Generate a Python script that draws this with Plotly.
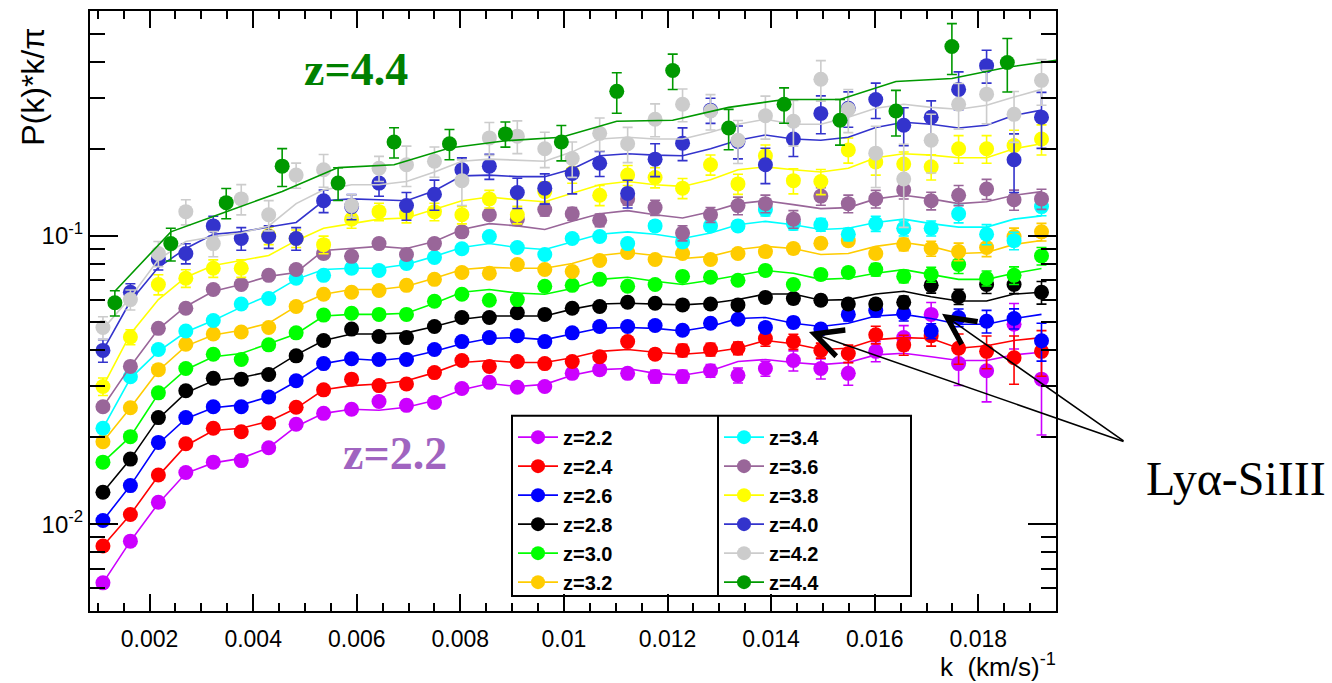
import math
import plotly.graph_objects as go

# ---------------- data ----------------
K = [0.00110, 0.00163, 0.00217, 0.00270, 0.00323, 0.00377, 0.00430, 0.00483, 0.00536, 0.00590,
     0.00643, 0.00696, 0.00750, 0.00803, 0.00856, 0.00910, 0.00963, 0.01016, 0.01069, 0.01123,
     0.01176, 0.01229, 0.01283, 0.01336, 0.01389, 0.01443, 0.01496, 0.01549, 0.01602, 0.01656,
     0.01709, 0.01762, 0.01816, 0.01869, 0.01922]
K44 = [0.00133, 0.00241, 0.00348, 0.00456, 0.00564, 0.00672, 0.00779, 0.00887, 0.00995,
       0.01102, 0.01210, 0.01318, 0.01425, 0.01533, 0.01641, 0.01749, 0.01856]
K44_MODEL = [0.00133, 0.00241, 0.00348, 0.00456, 0.00564, 0.00672, 0.00779, 0.00887, 0.00995,
             0.01102, 0.01210, 0.01318, 0.01425, 0.01533, 0.01641, 0.01749, 0.01856, 0.01964]

LABELS = ["z=2.2", "z=2.4", "z=2.6", "z=2.8", "z=3.0", "z=3.2",
          "z=3.4", "z=3.6", "z=3.8", "z=4.0", "z=4.2", "z=4.4"]
COLORS = ["#cc00ff", "#ff0000", "#0000ff", "#000000", "#00ff00", "#ffcc00",
          "#00ffff", "#996699", "#ffff00", "#3333cc", "#cccccc", "#009900"]

P_22 = [0.00626, 0.00873, 0.0119, 0.0151, 0.0164, 0.0166, 0.0184, 0.0222, 0.0242, 0.0250, 0.0266, 0.0258,
        0.0264, 0.0295, 0.0310, 0.0298, 0.0300, 0.0333, 0.0343, 0.0333, 0.0325, 0.0325, 0.0340, 0.0328,
        0.0346, 0.0369, 0.0346, 0.0333, 0.0397, 0.0443, 0.0533, 0.0360, 0.0340, 0.0493, 0.0318]
M_22 = [0.00626, 0.00873, 0.0118, 0.0150, 0.0163, 0.0169, 0.0184, 0.0218, 0.0242, 0.0250, 0.0248, 0.0254,
        0.0268, 0.0292, 0.0307, 0.0300, 0.0305, 0.0328, 0.0343, 0.0346, 0.0333, 0.0328, 0.0340, 0.0366,
        0.0372, 0.0363, 0.0357, 0.0363, 0.0386, 0.0391, 0.0380, 0.0369, 0.0369, 0.0386, 0.0394]
E_22 = [2, 2, 2, 2, 2, 2, 2, 2, 2, 3, 3, 3, 3, 3, 3, 3, 3, 4, 4, 4, 5, 5, 5, 6, 6, 8, 8, 9, 8, 10, 10, 16, 22, 18, 36]

P_24 = [0.0084, 0.0108, 0.0148, 0.0190, 0.0215, 0.0209, 0.0224, 0.0254, 0.0292, 0.0318, 0.0302, 0.0306,
        0.0335, 0.0369, 0.0352, 0.0366, 0.0360, 0.0366, 0.0380, 0.0429, 0.0388, 0.0400, 0.0403, 0.0407,
        0.0440, 0.0429, 0.0400, 0.0390, 0.0453, 0.0418, 0.0450, 0.0407, 0.0397, 0.0377, 0.0397]
M_24 = [0.0084, 0.0108, 0.0147, 0.0187, 0.0211, 0.0215, 0.0227, 0.0252, 0.0292, 0.0302, 0.0306, 0.0314,
        0.0335, 0.0363, 0.0369, 0.0363, 0.0363, 0.0377, 0.0397, 0.0403, 0.0394, 0.0388, 0.0394, 0.0407,
        0.0433, 0.0422, 0.0403, 0.0407, 0.0436, 0.0443, 0.0440, 0.0407, 0.0415, 0.0433, 0.0443]
E_24 = [2, 2, 2, 2, 2, 2, 2, 2, 2, 2, 2, 2, 3, 3, 3, 3, 3, 3, 3, 3, 4, 5, 5, 5, 6, 6, 6, 7, 7, 8, 8, 12, 13, 19, 18]

P_26 = [0.0103, 0.0136, 0.0192, 0.0234, 0.0255, 0.0255, 0.0276, 0.0314, 0.0360, 0.0374, 0.0372, 0.0372,
        0.0403, 0.0429, 0.0443, 0.0450, 0.0429, 0.0460, 0.0484, 0.0484, 0.0488, 0.0470, 0.0497, 0.0513,
        0.0480, 0.0500, 0.0474, 0.0533, 0.0550, 0.0538, 0.0467, 0.0520, 0.0505, 0.0516, 0.0432]
M_26 = [0.0103, 0.0136, 0.0190, 0.0232, 0.0253, 0.0259, 0.0276, 0.0312, 0.0360, 0.0374, 0.0369, 0.0377,
        0.0397, 0.0422, 0.0440, 0.0443, 0.0436, 0.0456, 0.0477, 0.0480, 0.0477, 0.0467, 0.0484, 0.0516,
        0.0520, 0.0497, 0.0484, 0.0497, 0.0526, 0.0533, 0.0516, 0.0493, 0.0493, 0.0516, 0.0533]
E_26 = [2, 2, 2, 2, 2, 2, 2, 2, 2, 2, 2, 2, 3, 3, 3, 3, 3, 3, 3, 3, 3, 3, 3, 3, 4, 4, 4, 5, 5, 6, 6, 7, 9, 8, 15]

P_28 = [0.0129, 0.0168, 0.0234, 0.0290, 0.0320, 0.0318, 0.0330, 0.0383, 0.0433, 0.0474, 0.0447, 0.0443,
        0.0484, 0.0520, 0.0520, 0.0540, 0.0533, 0.0560, 0.0568, 0.0587, 0.0583, 0.0575, 0.0579, 0.0575,
        0.0610, 0.0605, 0.0597, 0.0579, 0.0579, 0.0587, 0.0672, 0.0614, 0.0677, 0.0677, 0.0636]
M_28 = [0.0129, 0.0168, 0.0232, 0.0285, 0.0314, 0.0322, 0.0337, 0.0386, 0.0433, 0.0456, 0.0456, 0.0460,
        0.0484, 0.0513, 0.0526, 0.0526, 0.0526, 0.0556, 0.0579, 0.0583, 0.0579, 0.0575, 0.0583, 0.0600,
        0.0627, 0.0627, 0.0597, 0.0600, 0.0627, 0.0641, 0.0614, 0.0593, 0.0593, 0.0627, 0.0636]
E_28 = [2, 2, 2, 2, 2, 2, 2, 2, 2, 2, 2, 2, 3, 3, 3, 3, 3, 3, 3, 3, 3, 3, 3, 3, 4, 4, 4, 4, 4, 5, 6, 6, 7, 7, 9]

P_30 = [0.0164, 0.0201, 0.0285, 0.0346, 0.0388, 0.0372, 0.0418, 0.0460, 0.0530, 0.0538, 0.0533, 0.0533,
        0.0592, 0.0626, 0.0597, 0.0600, 0.0667, 0.0672, 0.0705, 0.0667, 0.0677, 0.0722, 0.0717, 0.0700,
        0.0757, 0.0677, 0.0733, 0.0745, 0.0762, 0.0722, 0.0733, 0.0794, 0.0711, 0.0728, 0.0850]
M_30 = [0.0164, 0.0201, 0.0283, 0.0343, 0.0380, 0.0390, 0.0422, 0.0456, 0.0526, 0.0533, 0.0533, 0.0538,
        0.0583, 0.0636, 0.0650, 0.0632, 0.0626, 0.0655, 0.0705, 0.0717, 0.0694, 0.0677, 0.0700, 0.0728,
        0.0757, 0.0740, 0.0705, 0.0711, 0.0740, 0.0762, 0.0733, 0.0705, 0.0705, 0.0740, 0.0769]
E_30 = [2, 2, 2, 2, 2, 2, 2, 2, 2, 2, 2, 2, 3, 3, 3, 3, 3, 3, 3, 3, 3, 3, 3, 3, 4, 4, 4, 4, 5, 5, 6, 7, 6, 7, 7]

P_32 = [0.0193, 0.0253, 0.0343, 0.0420, 0.0456, 0.0463, 0.0480, 0.0568, 0.0626, 0.0636, 0.0645, 0.0672,
        0.0705, 0.0745, 0.0740, 0.0794, 0.0763, 0.0751, 0.0820, 0.0874, 0.0826, 0.0867, 0.0826, 0.0867,
        0.0880, 0.0902, 0.0940, 0.0960, 0.0867, 0.0932, 0.0902, 0.0880, 0.0909, 0.0992, 0.1030]
M_32 = [0.0193, 0.0253, 0.0340, 0.0414, 0.0452, 0.0470, 0.0497, 0.0568, 0.0626, 0.0650, 0.0650, 0.0667,
        0.0711, 0.0763, 0.0776, 0.0770, 0.0770, 0.0800, 0.0853, 0.0874, 0.0853, 0.0833, 0.0847, 0.0895,
        0.0917, 0.0902, 0.0860, 0.0867, 0.0917, 0.0946, 0.0917, 0.0867, 0.0874, 0.0932, 0.0961]
E_32 = [2, 2, 2, 2, 2, 2, 2, 2, 2, 2, 2, 2, 3, 3, 3, 3, 3, 3, 3, 3, 3, 3, 3, 3, 4, 4, 4, 4, 4, 5, 6, 7, 7, 7, 7]

P_34 = [0.0215, 0.0324, 0.0403, 0.0467, 0.0508, 0.0579, 0.0605, 0.0711, 0.0728, 0.0770, 0.0757, 0.0800,
        0.0839, 0.0900, 0.0992, 0.0909, 0.0860, 0.0977, 0.0992, 0.0938, 0.1080, 0.0950, 0.1080, 0.1080,
        0.1230, 0.1100, 0.1090, 0.1010, 0.1100, 0.1060, 0.1060, 0.1190, 0.1010, 0.0960, 0.1260]
M_34 = [0.0215, 0.0320, 0.0397, 0.0463, 0.0508, 0.0565, 0.0620, 0.0705, 0.0763, 0.0770, 0.0770, 0.0794,
        0.0847, 0.0909, 0.0938, 0.0909, 0.0895, 0.0950, 0.1010, 0.1030, 0.1010, 0.0977, 0.1020, 0.1090,
        0.1120, 0.1090, 0.1050, 0.1060, 0.1110, 0.1140, 0.1100, 0.1070, 0.1070, 0.1140, 0.1170]
E_34 = [2, 2, 2, 2, 2, 2, 2, 2, 2, 2, 3, 3, 3, 3, 3, 3, 3, 3, 3, 3, 4, 4, 4, 4, 5, 5, 5, 5, 6, 6, 6, 7, 8, 7, 7]

P_36 = [0.0255, 0.0352, 0.0477, 0.0560, 0.0650, 0.0677, 0.0728, 0.0763, 0.0867, 0.0847, 0.0938, 0.0860,
        0.0938, 0.1030, 0.1180, 0.1140, 0.1230, 0.1190, 0.1130, 0.1340, 0.1250, 0.1020, 0.1180, 0.1270,
        0.1290, 0.1140, 0.1370, 0.1290, 0.1340, 0.1440, 0.1320, 0.1380, 0.1450, 0.1330, 0.1340]
M_36 = [0.0255, 0.0352, 0.0474, 0.0568, 0.0641, 0.0677, 0.0722, 0.0745, 0.0888, 0.0902, 0.0917, 0.0902,
        0.0954, 0.1050, 0.1100, 0.1080, 0.1050, 0.1120, 0.1190, 0.1220, 0.1180, 0.1150, 0.1210, 0.1290,
        0.1320, 0.1280, 0.1240, 0.1250, 0.1340, 0.1380, 0.1340, 0.1290, 0.1310, 0.1380, 0.1420]
E_36 = [3, 3, 3, 3, 3, 3, 3, 3, 4, 4, 4, 4, 4, 4, 4, 5, 5, 5, 5, 5, 6, 6, 6, 7, 7, 7, 7, 7, 7, 7, 7, 8, 8, 8, 8]

P_38 = [0.0300, 0.0445, 0.0677, 0.0711, 0.0770, 0.0770, 0.1000, 0.0977, 0.0930, 0.1140, 0.1210, 0.1190,
        0.1210, 0.1180, 0.1340, 0.1180, 0.1420, 0.1650, 0.1380, 0.1620, 0.1590, 0.1460, 0.1760, 0.1510,
        0.1890, 0.1550, 0.1540, 0.1980, 0.1800, 0.1770, 0.1730, 0.2000, 0.2000, 0.2050, 0.2160]
M_38 = [0.0300, 0.0456, 0.0600, 0.0717, 0.0788, 0.0820, 0.0853, 0.0960, 0.1060, 0.1100, 0.1140, 0.1150,
        0.1230, 0.1320, 0.1360, 0.1330, 0.1310, 0.1400, 0.1500, 0.1540, 0.1500, 0.1480, 0.1560, 0.1690,
        0.1730, 0.1690, 0.1660, 0.1710, 0.1860, 0.1920, 0.1900, 0.1860, 0.1860, 0.2000, 0.2080]
E_38 = [7, 6, 8, 7, 7, 7, 7, 7, 7, 7, 7, 7, 7, 7, 7, 7, 8, 8, 8, 8, 8, 8, 8, 8, 9, 10, 10, 10, 10, 10, 10, 11, 11, 13, 12]

P_40 = [0.0400, 0.0636, 0.0826, 0.0867, 0.1080, 0.0977, 0.0992, 0.0977, 0.1320, 0.1260, 0.1520, 0.1270,
        0.1390, 0.1690, 0.1740, 0.1410, 0.1460, 0.1640, 0.1780, 0.1400, 0.1840, 0.2090, 0.2720, 0.2120,
        0.1760, 0.2160, 0.2650, 0.2760, 0.2960, 0.2410, 0.2570, 0.3210, 0.3880, 0.1830, 0.2570]
M_40 = [0.0400, 0.0592, 0.0776, 0.0902, 0.1010, 0.1030, 0.1070, 0.1110, 0.1320, 0.1340, 0.1330, 0.1320,
        0.1430, 0.1610, 0.1620, 0.1600, 0.1600, 0.1700, 0.1890, 0.1920, 0.1900, 0.1890, 0.2000, 0.2140,
        0.2230, 0.2160, 0.2140, 0.2190, 0.2370, 0.2470, 0.2430, 0.2360, 0.2410, 0.2610, 0.2720]
E_40 = [9, 7, 8, 8, 8, 9, 9, 9, 9, 10, 10, 11, 12, 10, 10, 12, 12, 15, 10, 11, 13, 13, 10, 13, 14, 13, 15, 14,
        14, 15, 14, 15, 13, 23, 22]

P_42 = [0.0480, 0.0600, 0.0867, 0.1210, 0.0938, 0.1340, 0.1180, 0.1620, 0.1690, 0.1270, 0.1710, 0.1760,
        0.1810, 0.1550, 0.2180, 0.2210, 0.2000, 0.1850, 0.2260, 0.2080, 0.2530, 0.2850, 0.2700, 0.2140,
        0.2600, 0.2490, 0.3480, 0.2740, 0.1930, 0.1570, 0.2140, 0.2850, 0.3090, 0.2630, 0.3450]
M_42 = [0.0474, 0.0610, 0.0826, 0.0954, 0.0990, 0.1020, 0.1080, 0.1290, 0.1440, 0.1500, 0.1500, 0.1540,
        0.1660, 0.1810, 0.1840, 0.1830, 0.1810, 0.1950, 0.2160, 0.2190, 0.2160, 0.2160, 0.2280, 0.2430,
        0.2530, 0.2430, 0.2430, 0.2570, 0.2760, 0.2850, 0.2780, 0.2740, 0.2830, 0.3020, 0.3210]
E_42 = [9, 8, 10, 10, 10, 12, 12, 10, 13, 9, 10, 16, 12, 18, 13, 13, 14, 14, 13, 14, 13, 13, 14, 17, 17, 18,
        16, 17, 24, 32, 23, 18, 21, 20, 18]

P_44 = [0.0585, 0.0938, 0.1300, 0.1740, 0.1520, 0.2110, 0.2080, 0.2250, 0.2110, 0.3160, 0.3730, 0.2360,
        0.2850, 0.2510, 0.2700, 0.4520, 0.3980]
M_44 = [0.0641, 0.1030, 0.1210, 0.1420, 0.1720, 0.1760, 0.2010, 0.2130, 0.2190, 0.2490, 0.2510, 0.2780,
        0.2960, 0.2960, 0.3420, 0.3500, 0.3830, 0.4080]
E_44 = [10, 13, 12, 15, 13, 12, 12, 10, 14, 16, 14, 16, 14, 18, 18, 20, 21]

SERIES = [
    (K, P_22, M_22, E_22, K), (K, P_24, M_24, E_24, K), (K, P_26, M_26, E_26, K),
    (K, P_28, M_28, E_28, K), (K, P_30, M_30, E_30, K), (K, P_32, M_32, E_32, K),
    (K, P_34, M_34, E_34, K), (K, P_36, M_36, E_36, K), (K, P_38, M_38, E_38, K),
    (K, P_40, M_40, E_40, K), (K, P_42, M_42, E_42, K), (K44, P_44, M_44, E_44, K44_MODEL),
]

X_TICKS = [0.002, 0.004, 0.006, 0.008, 0.010, 0.012, 0.014, 0.016, 0.018]
X_TICKTEXT = ["0.002", "0.004", "0.006", "0.008", "0.01", "0.012", "0.014", "0.016", "0.018"]
X_MINOR = [0.001 + 0.0005 * i for i in range(38)]
Y_TICKS = [0.01, 0.1]
Y_TICKTEXT = ["10<sup>-2</sup>", "10<sup>-1</sup>"]
Y_MINOR = [0.005, 0.006, 0.007, 0.008, 0.009, 0.02, 0.03, 0.04, 0.05, 0.06, 0.07, 0.08, 0.09,
           0.2, 0.3, 0.4, 0.5, 0.6]

X_RANGE = [0.00085, 0.0195]
Y_RANGE = [0.005, 0.6]

# ---------------- geometry (pixels) ----------------
W, H = 1332, 683
L, R, T, B = 90, 1056, 9, 611   # plot-area edges in pixels


def px(x):
    return (x - L) / (R - L)


def py(y):
    return (B - y) / (B - T)


fig = go.Figure()

for idx, ((kd, p, m, e, km), col, lab) in enumerate(zip(SERIES, COLORS, LABELS)):
    err = [v * r / 100.0 for v, r in zip(p, e)]
    fig.add_trace(go.Scatter(x=km, y=m, mode="lines", line=dict(color=col, width=1.6),
                             showlegend=False, hoverinfo="skip"))
    fig.add_trace(go.Scatter(x=kd, y=p, mode="markers",
                             marker=dict(color=col, size=15, line=dict(width=0)),
                             error_y=dict(type="data", array=err, symmetric=True, color=col,
                                          thickness=1.6, width=5),
                             showlegend=False, name=lab))

# legend entries (line + marker), two columns
for idx, (col, lab) in enumerate(zip(COLORS, LABELS)):
    fig.add_trace(go.Scatter(x=[None], y=[None], mode="lines+markers",
                             line=dict(color=col, width=1.6),
                             marker=dict(color=col, size=14),
                             name="<b>" + lab + "</b>",
                             legend="legend" if idx < 6 else "legend2"))

axis_common = dict(showline=True, linecolor="black", linewidth=2, mirror="allticks",
                   ticks="inside", tickcolor="black", tickwidth=1.6, showgrid=False,
                   zeroline=False)

fig.update_layout(
    width=W, height=H,
    margin=dict(l=L, r=W - R, t=T, b=H - B, pad=0),
    paper_bgcolor="white", plot_bgcolor="white",
    xaxis=dict(range=X_RANGE, tickmode="array", tickvals=X_TICKS, ticktext=X_TICKTEXT,
               ticklen=17, ticklabelstandoff=6,
               tickfont=dict(family="Liberation Sans", size=23, color="black"),
               minor=dict(tickmode="array", tickvals=X_MINOR, ticks="inside", ticklen=8,
                          tickcolor="black", tickwidth=1.6, showgrid=False),
               **axis_common),
    yaxis=dict(type="log", range=[math.log10(Y_RANGE[0]), math.log10(Y_RANGE[1])], tickmode="array",
               tickvals=Y_TICKS, ticktext=Y_TICKTEXT, ticklen=28, ticklabelstandoff=0,
               tickfont=dict(family="Liberation Sans", size=24, color="black"),
               minor=dict(tickmode="array", tickvals=Y_MINOR, ticks="inside", ticklen=15,
                          tickcolor="black", tickwidth=1.6, showgrid=False),
               **axis_common),
    legend=dict(x=px(513), y=py(417), xanchor="left", yanchor="top", bgcolor="rgba(0,0,0,0)",
                borderwidth=0, font=dict(family="Liberation Sans", size=20, color="black"),
                tracegroupgap=0, itemwidth=40),
    legend2=dict(x=px(719), y=py(417), xanchor="left", yanchor="top", bgcolor="rgba(0,0,0,0)",
                 borderwidth=0, font=dict(family="Liberation Sans", size=20, color="black"),
                 tracegroupgap=0, itemwidth=40),
    showlegend=True,
)

# legend frame
fig.add_shape(type="rect", xref="paper", yref="paper", x0=px(512), x1=px(911), y0=py(596), y1=py(415),
              line=dict(color="black", width=2), fillcolor="rgba(0,0,0,0)", layer="above")
fig.add_shape(type="line", xref="paper", yref="paper", x0=px(718), x1=px(718), y0=py(596), y1=py(415),
              line=dict(color="black", width=2), layer="above")

# titles
fig.add_annotation(text="P(k)*k/\u03c0", xref="paper", yref="paper", x=px(33), y=py(85),
                   textangle=-90, showarrow=False, xanchor="center", yanchor="middle",
                   font=dict(family="Liberation Sans", size=32, color="black"))
fig.add_annotation(text="k\u00a0\u00a0(km/s)<sup>-1</sup>", xref="paper", yref="paper", x=px(1058), y=py(666),
                   showarrow=False, xanchor="right", yanchor="middle",
                   font=dict(family="Liberation Sans", size=26, color="black"))

# labels
fig.add_annotation(text="<b>z=4.4</b>", xref="paper", yref="paper", x=px(356), y=py(68),
                   showarrow=False, xanchor="center", yanchor="middle",
                   font=dict(family="Liberation Serif", size=46, color="#008000"))
fig.add_annotation(text="<b>z=2.2</b>", xref="paper", yref="paper", x=px(395), y=py(453),
                   showarrow=False, xanchor="center", yanchor="middle",
                   font=dict(family="Liberation Serif", size=46, color="#a064c0"))
fig.add_annotation(text="Ly\u03b1-SiIII", xref="paper", yref="paper", x=px(1236), y=py(478),
                   showarrow=False, xanchor="center", yanchor="middle",
                   font=dict(family="Liberation Serif", size=48, color="black"))

# arrows to the Ly-alpha / SiIII feature
ARROW_TIPS = [(0.01473, 0.0463), (0.0173, 0.0536)]
TAIL = (1125, 441)
ly0, ly1 = math.log10(Y_RANGE[0]), math.log10(Y_RANGE[1])
for kx, vy in ARROW_TIPS:
    tx = L + (kx - X_RANGE[0]) / (X_RANGE[1] - X_RANGE[0]) * (R - L)
    ty = B - (math.log10(vy) - ly0) / (ly1 - ly0) * (B - T)
    fig.add_annotation(x=kx, y=math.log10(vy), xref="x", yref="y", text="", showarrow=True,
                       ax=TAIL[0] - tx, ay=TAIL[1] - ty, arrowhead=5, arrowsize=3.4,
                       arrowwidth=1.6, arrowcolor="black")

fig.write_html("out.html")
